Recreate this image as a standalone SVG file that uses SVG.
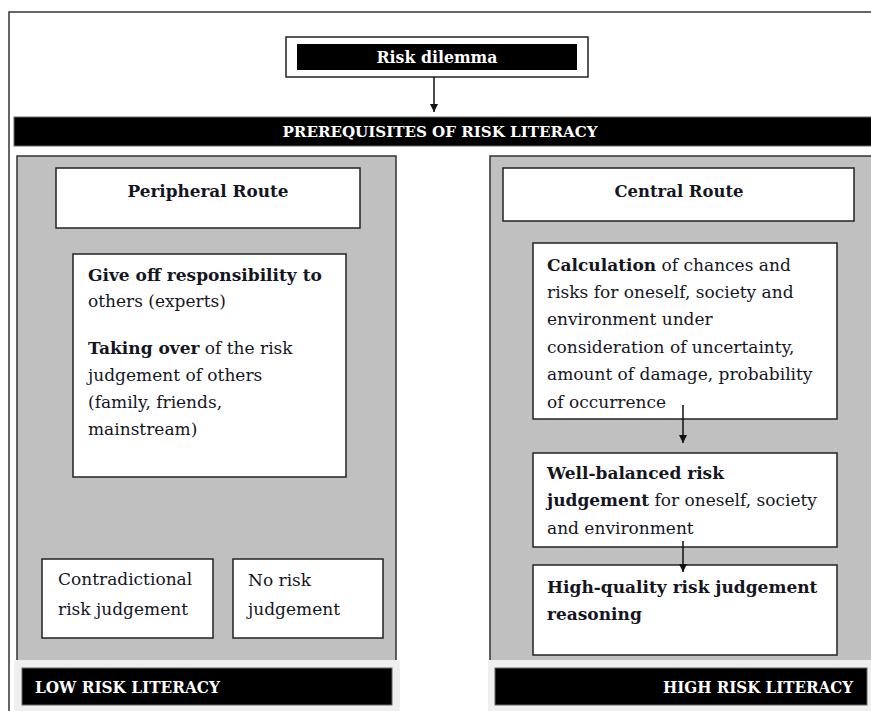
<svg xmlns="http://www.w3.org/2000/svg" width="871" height="711" viewBox="0 0 871 711">
  <defs>
    <marker id="arrowhead" viewBox="0 0 10 10" refX="10" refY="5" markerWidth="8" markerHeight="9" markerUnits="userSpaceOnUse" orient="auto">
      <path d="M0,0 L10,5 L0,10 Z" fill="#111"/>
    </marker>
    <style>
      .frame { fill: none; stroke: #333; stroke-width: 1.5; }
      .panel { fill: #c0c0c0; stroke: #333; stroke-width: 1.5; }
      .band { fill: #efefef; }
      .box { fill: #fff; stroke: #222; stroke-width: 1.5; }
      .bar { fill: #000; stroke: #666; stroke-width: 1; }
      .conn { stroke: #111; stroke-width: 1.5; fill: none; marker-end: url(#arrowhead); }
      text { font-family: "DejaVu Serif", "Liberation Serif", serif; fill: #15151f; }
      .body { font-size: 17px; }
      .b { font-weight: bold; }
      .head { font-size: 17px; font-weight: bold; }
      .inv { fill: #fff; font-weight: bold; }
    </style>
  </defs>

  <rect width="871" height="711" fill="#fff"/>

  <!-- outer frame (left and top edges) -->
  <path class="frame" d="M9,711 V12 H871"/>

  <!-- grey route panels and the light bands under the outcome bars -->
  <rect class="panel" x="17" y="156" width="379" height="520"/>
  <rect class="panel" x="490" y="156" width="382" height="520"/>
  <rect class="band" x="14" y="660" width="386" height="51"/>
  <rect class="band" x="488" y="660" width="383" height="51"/>

  <g id="risk-dilemma">
    <rect class="box" x="286" y="37" width="302" height="40"/>
    <rect x="297" y="44" width="280" height="26" fill="#000"/>
    <text class="inv" x="437" y="63" font-size="16" text-anchor="middle" textLength="121" lengthAdjust="spacingAndGlyphs">Risk dilemma</text>
  </g>

  <g id="prerequisites">
    <rect class="bar" x="14" y="117" width="860" height="29"/>
    <text class="inv" x="440" y="137" font-size="15" text-anchor="middle" textLength="315" lengthAdjust="spacingAndGlyphs">PREREQUISITES OF RISK LITERACY</text>
  </g>

  <g id="peripheral-route">
    <rect class="box" x="56" y="168" width="304" height="60"/>
    <text class="head" x="208" y="197" text-anchor="middle" textLength="161" lengthAdjust="spacingAndGlyphs">Peripheral Route</text>
  </g>

  <g id="give-off-responsibility">
    <rect class="box" x="73" y="254" width="273" height="223"/>
    <text class="body" x="88" y="281"><tspan class="b">Give off responsibility to</tspan></text>
    <text class="body" x="88" y="307">others (experts)</text>
    <text class="body" x="88" y="354"><tspan class="b">Taking over</tspan> of the risk</text>
    <text class="body" x="88" y="381">judgement of others</text>
    <text class="body" x="88" y="408">(family, friends,</text>
    <text class="body" x="88" y="435">mainstream)</text>
  </g>

  <g id="contradictional">
    <rect class="box" x="42" y="559" width="171" height="79"/>
    <text class="body" x="58" y="585">Contradictional</text>
    <text class="body" x="58" y="615">risk judgement</text>
  </g>

  <g id="no-risk-judgement">
    <rect class="box" x="233" y="559" width="150" height="79"/>
    <text class="body" x="248" y="586">No risk</text>
    <text class="body" x="248" y="615">judgement</text>
  </g>

  <g id="low-risk-literacy">
    <rect class="bar" x="22" y="668" width="370" height="37"/>
    <text class="inv" x="35" y="693" font-size="16" textLength="185" lengthAdjust="spacingAndGlyphs">LOW RISK LITERACY</text>
  </g>

  <g id="central-route">
    <rect class="box" x="503" y="168" width="351" height="53"/>
    <text class="head" x="679" y="197" text-anchor="middle" textLength="129" lengthAdjust="spacingAndGlyphs">Central Route</text>
  </g>

  <g id="calculation">
    <rect class="box" x="533" y="243" width="304" height="176"/>
    <text class="body" x="547" y="271"><tspan class="b">Calculation</tspan> of chances and</text>
    <text class="body" x="547" y="298">risks for oneself, society and</text>
    <text class="body" x="547" y="325">environment under</text>
    <text class="body" x="547" y="353">consideration of uncertainty,</text>
    <text class="body" x="547" y="380">amount of damage, probability</text>
    <text class="body" x="547" y="408">of occurrence</text>
  </g>

  <g id="well-balanced">
    <rect class="box" x="533" y="453" width="304" height="94"/>
    <text class="body" x="547" y="479"><tspan class="b">Well-balanced risk</tspan></text>
    <text class="body" x="547" y="506"><tspan class="b">judgement</tspan> for oneself, society</text>
    <text class="body" x="547" y="534">and environment</text>
  </g>

  <g id="high-quality">
    <rect class="box" x="533" y="565" width="304" height="90"/>
    <text class="body b" x="547" y="593">High-quality risk judgement</text>
    <text class="body b" x="547" y="620">reasoning</text>
  </g>

  <g id="high-risk-literacy">
    <rect class="bar" x="495" y="668" width="372" height="37"/>
    <text class="inv" x="853" y="693" font-size="16" text-anchor="end" textLength="190" lengthAdjust="spacingAndGlyphs">HIGH RISK LITERACY</text>
  </g>

  <g id="connectors">
    <line class="conn" x1="434" y1="77" x2="434" y2="112"/>
    <line class="conn" x1="683" y1="405" x2="683" y2="443"/>
    <line class="conn" x1="683" y1="541" x2="683" y2="572"/>
  </g>
</svg>
